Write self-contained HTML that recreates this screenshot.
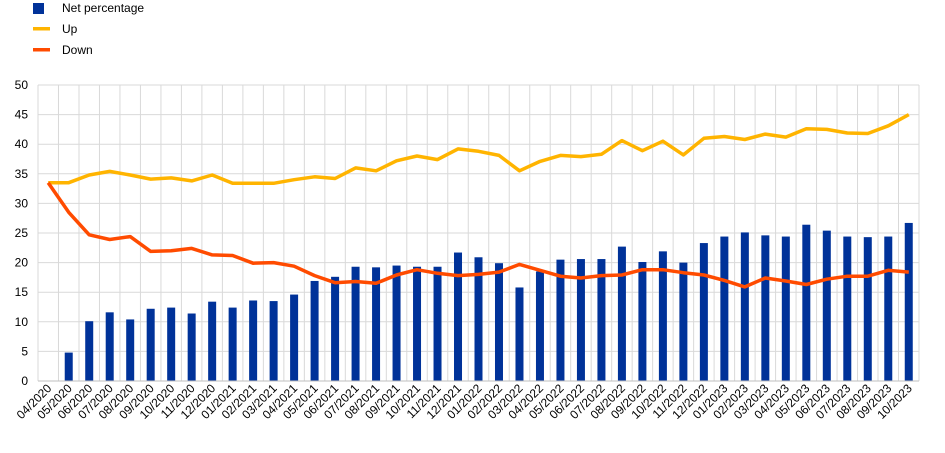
<!DOCTYPE html>
<html><head><meta charset="utf-8"><style>
body{margin:0;background:#fff;font-family:"Liberation Sans",Arial,sans-serif;}
svg text{font-family:"Liberation Sans",Arial,sans-serif;font-size:12px;fill:#000;}
</style></head><body>
<svg id="chart" width="945" height="448" xmlns="http://www.w3.org/2000/svg">
<g>
<g><rect x="33" y="3" width="11" height="11" fill="#003299"/><text x="62" y="12">Net percentage</text></g>
<g><rect x="33" y="27" width="17" height="3.5" fill="#FFB400"/><text x="62" y="33">Up</text></g>
<g><rect x="33" y="48" width="17" height="3.5" fill="#FF4B00"/><text x="62" y="54">Down</text></g>
</g>
<g id="grid"></g>
<g id="bars"></g>
<g id="lines"></g>
<g id="axes"></g>
</svg>
<script>
const categories=["04/2020","05/2020","06/2020","07/2020","08/2020","09/2020","10/2020","11/2020","12/2020","01/2021","02/2021","03/2021","04/2021","05/2021","06/2021","07/2021","08/2021","09/2021","10/2021","11/2021","12/2021","01/2022","02/2022","03/2022","04/2022","05/2022","06/2022","07/2022","08/2022","09/2022","10/2022","11/2022","12/2022","01/2023","02/2023","03/2023","04/2023","05/2023","06/2023","07/2023","08/2023","09/2023","10/2023"];
const netValues=[null,4.8,10.1,11.6,10.4,12.2,12.4,11.4,13.4,12.4,13.6,13.5,14.6,16.9,17.6,19.3,19.2,19.5,19.3,19.3,21.7,20.9,19.9,15.8,18.5,20.5,20.6,20.6,22.7,20.1,21.9,20.0,23.3,24.4,25.1,24.6,24.4,26.4,25.4,24.4,24.3,24.4,26.7];
const upValues=[33.5,33.5,34.8,35.4,34.8,34.1,34.3,33.8,34.8,33.4,33.4,33.4,34.0,34.5,34.2,36.0,35.5,37.2,38.0,37.4,39.2,38.8,38.1,35.5,37.1,38.1,37.9,38.3,40.6,38.9,40.5,38.2,41.0,41.3,40.8,41.7,41.2,42.6,42.5,41.9,41.8,43.1,45.0];
const downValues=[33.5,28.5,24.7,23.9,24.4,21.9,22.0,22.4,21.3,21.2,19.9,20.0,19.4,17.8,16.6,16.8,16.5,17.9,18.8,18.2,17.8,18.0,18.4,19.7,18.7,17.7,17.4,17.8,17.9,18.8,18.8,18.3,17.9,17.0,15.9,17.4,16.9,16.3,17.2,17.7,17.7,18.7,18.4];
const yTicks=[0,5,10,15,20,25,30,35,40,45,50];

const NS="http://www.w3.org/2000/svg";
const L=38,R=919,T=85,B=381,yMax=50;
const band=(R-L)/categories.length;
const xPos=i=>L+band*(i+0.5);
const yPos=v=>B-(v/yMax)*(B-T);
function mk(tag,attrs,parent){const e=document.createElementNS(NS,tag);for(const k in attrs)e.setAttribute(k,attrs[k]);parent.appendChild(e);return e;}
const grid=document.getElementById('grid'),bars=document.getElementById('bars'),lines=document.getElementById('lines'),axes=document.getElementById('axes');
yTicks.forEach(t=>{
 const ln=mk('line',{x1:L,x2:R,y1:yPos(t),y2:yPos(t),stroke:'#d9d9d9','stroke-width':1},grid);
 
 
 const tx=mk('text',{x:L-10,y:yPos(t)+4,'text-anchor':'end'},axes);
 tx.textContent=t;
 
 
});
for(let i=0;i<=categories.length;i++){
 const x=L+band*i;
 const ln=mk('line',{x1:x,x2:x,y1:T,y2:B,stroke:'#d9d9d9','stroke-width':1},grid);
 
 
}
categories.forEach((c,i)=>{
 const x=xPos(i);
 const tx=mk('text',{x:x+4,y:B+8,'text-anchor':'end',transform:`rotate(-45 ${x+4} ${B+8})`},axes);
 tx.textContent=c;
 
 
 const v=netValues[i];
 if(v!=null){
  const r=mk('rect',{x:x-4,y:yPos(v),width:8,height:B-yPos(v),fill:'#003299'},bars);
  
  
 }
});
function line(vals,color,name){
 const d=vals.map((v,i)=>(i?'L':'M')+xPos(i).toFixed(1)+' '+yPos(v).toFixed(1)).join(' ');
 const p=mk('path',{d:d,fill:'none',stroke:color,'stroke-width':3.5,'stroke-linejoin':'round'},lines);
 
 
}
line(upValues,'#FFB400','line-up');
line(downValues,'#FF4B00','line-down');
const ax=mk('line',{x1:L,x2:R,y1:B,y2:B,stroke:'#bfbfbf','stroke-width':1},axes);


</script>
</body></html>
